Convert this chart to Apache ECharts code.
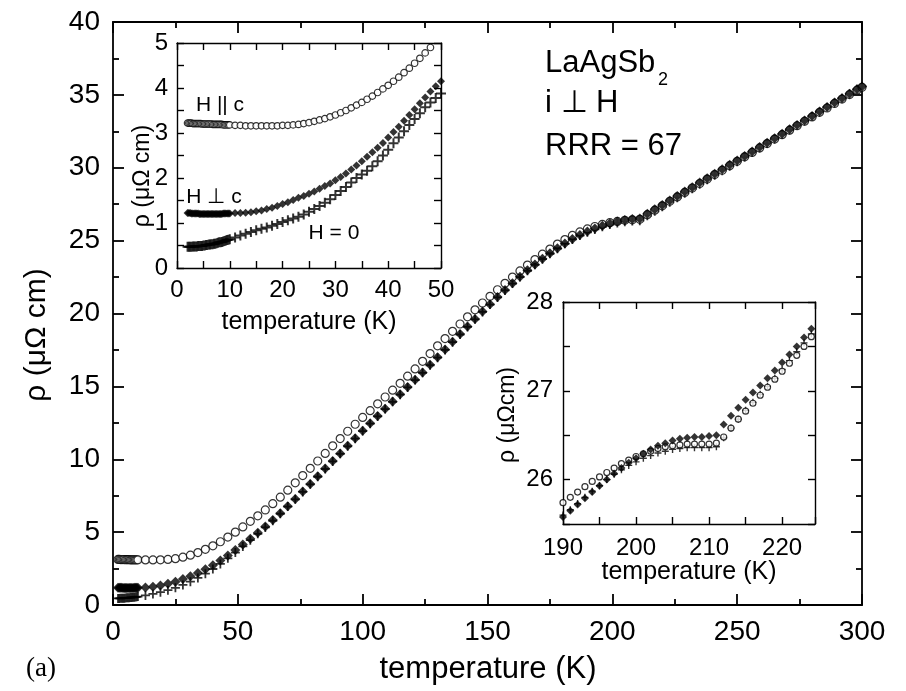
<!DOCTYPE html>
<html>
<head>
<meta charset="utf-8">
<script src="https://cdn.jsdelivr.net/npm/echarts@6/dist/echarts.min.js"></script>
<style>html,body{margin:0;padding:0;background:#fff;}#c{width:906px;height:691px;}</style>
</head>
<body>
<div id="c"></div>
<script>
// ---------- DATA ----------
// Main panel: temperature (K)
const mainT = [2,2.5,3,3.5,4,4.5,5,5.5,6,6.5,7,7.5,8,8.5,9,9.5,10,13,16,19,22,25,28,31,34,37,40,43,46,49,52,55,58,61,64,67,70,73,76,79,82,85,88,91,94,97,100,103,106,109,112,115,118,121,124,127,130,133,136,139,142,145,148,151,154,157,160,163,166,169,172,175,178,181,184,187,190,193,196,199,202,205,208,211,214,217,220,223,226,229,232,235,238,241,244,247,250,253,256,259,262,265,268,271,274,277,280,283,286,289,292,295,298,300];
// H || c (open circles)
const mainHpar = [3.13,3.13,3.12,3.12,3.12,3.12,3.11,3.11,3.11,3.11,3.10,3.10,3.10,3.10,3.10,3.10,3.10,3.09,3.09,3.10,3.13,3.18,3.28,3.42,3.60,3.82,4.06,4.34,4.66,5.00,5.36,5.74,6.12,6.52,6.95,7.40,7.88,8.38,8.88,9.38,9.88,10.40,10.92,11.42,11.92,12.40,12.87,13.33,13.80,14.27,14.74,15.21,15.70,16.20,16.72,17.25,17.78,18.28,18.78,19.28,19.77,20.25,20.72,21.18,21.63,22.07,22.50,22.92,23.32,23.70,24.07,24.42,24.76,25.07,25.36,25.60,25.80,25.97,26.11,26.23,26.32,26.39,26.43,26.46,26.78,27.09,27.39,27.70,28.00,28.31,28.61,28.92,29.22,29.53,29.83,30.14,30.44,30.75,31.05,31.36,31.66,31.97,32.27,32.58,32.88,33.19,33.49,33.80,34.10,34.41,34.71,35.02,35.32,35.52];
// H perp c (filled)
const mainHperp = [1.18,1.18,1.18,1.18,1.17,1.17,1.17,1.17,1.17,1.17,1.17,1.17,1.17,1.18,1.18,1.18,1.18,1.20,1.25,1.33,1.45,1.60,1.78,1.98,2.20,2.45,2.73,3.05,3.40,3.77,4.15,4.55,4.96,5.38,5.83,6.30,6.78,7.28,7.79,8.31,8.83,9.36,9.88,10.40,10.92,11.44,11.96,12.47,12.97,13.47,13.97,14.46,14.96,15.46,15.96,16.48,17.00,17.53,18.06,18.59,19.11,19.63,20.14,20.64,21.13,21.61,22.08,22.53,22.96,23.37,23.76,24.13,24.48,24.81,25.12,25.39,25.62,25.83,26.02,26.18,26.31,26.41,26.48,26.52,26.84,27.15,27.45,27.76,28.06,28.37,28.67,28.98,29.28,29.59,29.89,30.20,30.50,30.81,31.11,31.42,31.72,32.03,32.33,32.64,32.94,33.25,33.55,33.86,34.16,34.47,34.77,35.08,35.38,35.58];
// H = 0 (crosses)
const mainH0 = [0.45,0.45,0.46,0.46,0.47,0.47,0.48,0.49,0.49,0.50,0.51,0.52,0.53,0.54,0.55,0.56,0.58,0.66,0.76,0.88,1.02,1.18,1.38,1.60,1.86,2.15,2.47,2.82,3.20,3.60,4.02,4.45,4.88,5.32,5.78,6.26,6.75,7.25,7.76,8.28,8.80,9.33,9.85,10.37,10.89,11.41,11.93,12.44,12.94,13.44,13.94,14.43,14.93,15.43,15.93,16.45,16.97,17.50,18.03,18.56,19.08,19.60,20.11,20.61,21.10,21.58,22.05,22.50,22.93,23.34,23.73,24.10,24.45,24.78,25.08,25.35,25.57,25.77,25.95,26.10,26.21,26.29,26.34,26.37,26.70,27.01,27.32,27.63,27.94,28.25,28.56,28.87,29.18,29.49,29.80,30.11,30.42,30.73,31.04,31.35,31.66,31.97,32.28,32.59,32.90,33.21,33.52,33.83,34.14,34.45,34.76,35.07,35.38,35.58];

// Low-temperature inset
const lowT = [2,2.25,2.5,2.75,3,3.25,3.5,3.75,4,4.25,4.5,4.75,5,5.25,5.5,5.75,6,6.25,6.5,6.75,7,7.25,7.5,7.75,8,8.25,8.5,8.75,9,9.25,9.5,9.75,10,11,12,13,14,15,16,17,18,19,20,21,22,23,24,25,26,27,28,29,30,31,32,33,34,35,36,37,38,39,40,41,42,43,44,45,46,47,48,49,50];
const lowHpar = [3.22,3.22,3.22,3.22,3.21,3.21,3.21,3.21,3.21,3.21,3.21,3.20,3.20,3.20,3.20,3.20,3.20,3.20,3.20,3.19,3.19,3.19,3.19,3.19,3.19,3.19,3.19,3.18,3.18,3.18,3.18,3.18,3.18,3.17,3.17,3.16,3.16,3.16,3.16,3.16,3.16,3.16,3.17,3.17,3.18,3.19,3.21,3.23,3.26,3.29,3.32,3.36,3.40,3.45,3.50,3.56,3.62,3.68,3.75,3.82,3.90,3.98,4.06,4.15,4.24,4.34,4.44,4.55,4.66,4.78,4.90,5.02,5.14];
const lowHperp = [1.22,1.22,1.22,1.21,1.21,1.21,1.21,1.21,1.21,1.20,1.20,1.20,1.20,1.20,1.20,1.20,1.20,1.20,1.20,1.20,1.20,1.20,1.20,1.20,1.20,1.20,1.20,1.21,1.21,1.21,1.21,1.21,1.21,1.22,1.22,1.23,1.24,1.26,1.28,1.31,1.34,1.38,1.42,1.46,1.51,1.56,1.60,1.65,1.70,1.76,1.82,1.88,1.95,2.02,2.10,2.19,2.28,2.37,2.47,2.57,2.67,2.78,2.90,3.02,3.14,3.27,3.40,3.53,3.66,3.79,3.92,4.04,4.15];
const lowH0 = [0.47,0.47,0.47,0.47,0.48,0.48,0.48,0.48,0.49,0.49,0.49,0.49,0.50,0.50,0.51,0.51,0.52,0.52,0.53,0.53,0.54,0.54,0.55,0.56,0.57,0.57,0.58,0.59,0.60,0.61,0.62,0.63,0.64,0.68,0.72,0.76,0.80,0.84,0.87,0.90,0.94,0.98,1.02,1.06,1.10,1.14,1.19,1.25,1.31,1.38,1.45,1.53,1.62,1.71,1.80,1.90,2.00,2.08,2.16,2.26,2.37,2.50,2.63,2.77,2.90,3.04,3.18,3.31,3.44,3.57,3.68,3.78,3.88];

// Transition inset (190-224 K)
const trT = [190,191,192,193,194,195,196,197,198,199,200,201,202,203,204,205,206,207,208,209,210,211,212,213,214,215,216,217,218,219,220,221,222,223,224];
const trHperp = [25.58,25.65,25.72,25.79,25.86,25.93,26.00,26.07,26.13,26.19,26.24,26.29,26.34,26.38,26.41,26.44,26.46,26.47,26.48,26.48,26.49,26.50,26.62,26.72,26.81,26.90,26.98,27.06,27.14,27.23,27.32,27.41,27.50,27.60,27.70];
const trHpar = [25.74,25.80,25.86,25.92,25.98,26.03,26.08,26.13,26.18,26.22,26.26,26.29,26.32,26.35,26.37,26.38,26.39,26.40,26.40,26.40,26.40,26.41,26.48,26.58,26.68,26.77,26.86,26.95,27.04,27.13,27.22,27.31,27.40,27.50,27.61];
const trH0 = [25.60,25.66,25.73,25.80,25.87,25.93,26.00,26.06,26.11,26.16,26.20,26.24,26.27,26.30,26.32,26.34,26.35,26.36,26.36,26.36,26.36,26.37,26.47,26.58,26.68,26.78,26.87,26.96,27.05,27.14,27.24,27.34,27.44,27.54,27.64];

// Axis ranges
const mainX = {min:0, max:300, interval:50};
const mainY = {min:0, max:40, interval:5};
const lowX = {min:0, max:50, interval:5};
const lowY = {min:0, max:5, interval:0.5};
const trX = {min:190, max:224.5, interval:5};
const trY = {min:25.5, max:28, interval:0.5};

// ---------- CHART ----------
const SANS = '"Liberation Sans", Arial, sans-serif';
const zip = (xs, ys) => xs.map((x, i) => [x, ys[i]]);
const crossPath = 'path://M4,0H6V4H10V6H6V10H4V6H0V4H4Z';

function axis(grid, pos, rng, o) {
  const showLabel = (pos === 'bottom' || pos === 'left');
  return {
    type: 'value', gridIndex: grid, position: pos,
    min: rng.min, max: rng.max, interval: rng.interval,
    axisLine: {show: true, onZero: false, lineStyle: {color: '#000', width: o.lw}},
    axisTick: {show: true, inside: true, length: o.tl, lineStyle: {color: '#000', width: o.lw}},
    minorTick: {show: !!o.minor, splitNumber: 2, length: o.ml, lineStyle: {color: '#000', width: o.lw}},
    splitLine: {show: false},
    axisLabel: {show: showLabel, color: '#000', fontFamily: SANS, fontSize: o.fs, margin: o.margin,
      formatter: o.fmt || (v => v)}
  };
}
const mainO = {lw: 1.8, tl: 11, ml: 6, minor: true, fs: 28, margin: 13};
const lowO = {lw: 1.4, tl: 7, ml: 5, minor: false, fs: 24, margin: 9};
const trO = {lw: 1.4, tl: 7, ml: 4, minor: false, fs: 24, margin: 10};
const tens = v => (Math.abs(v % 10) < 1e-9 ? String(v) : '');
const ints = v => (Math.abs(v - Math.round(v)) < 1e-9 ? String(Math.round(v)) : '');

const xAxes = [
  axis(0, 'bottom', mainX, mainO), axis(0, 'top', mainX, mainO),
  axis(1, 'bottom', lowX, Object.assign({}, lowO, {fmt: tens, margin: 10})), axis(1, 'top', lowX, lowO),
  axis(2, 'bottom', trX, Object.assign({}, trO, {fmt: tens, margin: 12})), axis(2, 'top', trX, trO)
];
const yAxes = [
  axis(0, 'left', mainY, mainO), axis(0, 'right', mainY, mainO),
  axis(1, 'left', lowY, Object.assign({}, lowO, {fmt: ints})), axis(1, 'right', lowY, lowO),
  axis(2, 'left', trY, Object.assign({}, trO, {fmt: ints})), axis(2, 'right', trY, trO)
];

function sc(idx, data, kind, size) {
  const base = {type: 'scatter', xAxisIndex: idx, yAxisIndex: idx, data: data, symbolSize: size,
    silent: true, clip: true, large: false};
  if (kind === 'circle') {
    base.symbol = 'circle';
    base.itemStyle = {color: '#fff', borderColor: '#000', borderWidth: 1.2};
    base.z = 3;
  } else if (kind === 'fill') {
    base.symbol = 'diamond';
    base.itemStyle = {color: '#000'};
    base.z = 4;
  } else {
    base.symbol = crossPath;
    base.itemStyle = {color: '#000'};
    base.z = 2;
  }
  return base;
}

const series = [
  sc(0, zip(mainT, mainH0), 'cross', 9),
  sc(0, zip(mainT, mainHpar), 'circle', 8),
  sc(0, zip(mainT, mainHperp), 'fill', 10),
  sc(2, zip(lowT, lowH0), 'cross', 10),
  sc(2, zip(lowT, lowHpar), 'circle', 6.5),
  sc(2, zip(lowT, lowHperp), 'fill', 8),
  sc(4, zip(trT, trH0), 'cross', 7),
  sc(4, zip(trT, trHpar), 'circle', 6),
  sc(4, zip(trT, trHperp), 'fill', 8)
];

function txt(x, y, s, size, opt) {
  opt = opt || {};
  return {type: 'text', x: x, y: y, rotation: opt.rot || 0, z: 100,
    style: {text: s, fill: '#000', font: size + 'px ' + (opt.family || SANS),
      textAlign: opt.align || 'center', textVerticalAlign: 'middle'}};
}

const option = {
  animation: false,
  backgroundColor: '#fff',
  grid: [
    {left: 113, top: 22, width: 749, height: 583},
    {left: 177, top: 43, width: 264, height: 225, show: true, backgroundColor: '#fff', borderWidth: 0},
    {left: 563, top: 302, width: 252, height: 222, show: true, backgroundColor: '#fff', borderWidth: 0}
  ],
  xAxis: xAxes,
  yAxis: yAxes,
  series: series,
  graphic: [
    txt(37, 335, 'ρ (μΩ cm)', 30, {rot: Math.PI / 2}),
    txt(488, 669, 'temperature (K)', 31),
    txt(41, 669, '(a)', 27, {family: '"Liberation Serif", serif'}),
    txt(545, 63, 'LaAgSb', 31, {align: 'left'}),
    txt(658, 80, '2', 18, {align: 'left'}),
    txt(545, 103, 'i ⊥ H', 31, {align: 'left'}),
    txt(545, 146, 'RRR = 67', 31, {align: 'left'}),
    txt(143, 176, 'ρ (μΩ cm)', 23, {rot: Math.PI / 2}),
    txt(309, 322, 'temperature (K)', 25),
    txt(220, 105, 'H || c', 21),
    txt(214, 197, 'H ⊥ c', 21),
    txt(334, 233, 'H = 0', 21),
    txt(508, 415, 'ρ (μΩcm)', 23, {rot: Math.PI / 2}),
    txt(689, 572, 'temperature (K)', 25)
  ]
};

const chart = echarts.init(document.getElementById('c'), null, {renderer: 'canvas'});
chart.setOption(option);
</script>
</body>
</html>
